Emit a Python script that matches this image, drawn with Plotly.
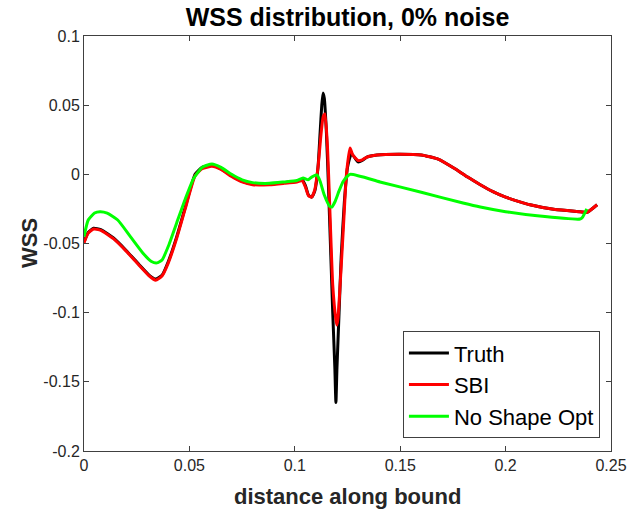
import plotly.graph_objects as go

# Truth (black)
truth_x = [0.000, 0.002, 0.0045, 0.008, 0.014, 0.020, 0.026, 0.031, 0.034, 0.037, 0.040, 0.044, 0.048,
           0.0527, 0.056, 0.0607, 0.065, 0.070, 0.075, 0.080, 0.088, 0.095, 0.101, 0.1035, 0.105, 0.1065,
           0.108, 0.1095, 0.111, 0.112, 0.1128, 0.1134, 0.1140, 0.1150, 0.1160, 0.1170, 0.1180, 0.1190,
           0.1195, 0.1200, 0.1210, 0.1220, 0.1235, 0.1250, 0.1268, 0.1280, 0.1300, 0.1320, 0.1342, 0.139,
           0.150, 0.160, 0.168, 0.176, 0.182, 0.188, 0.194, 0.200, 0.206, 0.2116, 0.2235, 0.2353, 0.2386, 0.2434]
truth_y = [-0.049, -0.042, -0.039, -0.040, -0.046, -0.055, -0.065, -0.073, -0.0757, -0.073, -0.063, -0.045, -0.024,
           0.000, 0.005, 0.0065, 0.004, -0.001, -0.005, -0.007, -0.007, -0.006, -0.005, -0.004, -0.008, -0.015,
           -0.0165, -0.012, 0.005, 0.030, 0.050, 0.0588, 0.055, 0.030, -0.010, -0.055, -0.100, -0.140,
           -0.165, -0.140, -0.100, -0.060, -0.020, 0.005, 0.015, 0.013, 0.009, 0.010, 0.0125, 0.014,
           0.0145, 0.014, 0.011, 0.004, -0.002, -0.0075, -0.0125, -0.0165, -0.0195, -0.022, -0.0255, -0.027, -0.0275, -0.022]

# SBI (red)
sbi_x = [0.000, 0.002, 0.0045, 0.008, 0.014, 0.020, 0.026, 0.031, 0.034, 0.037, 0.040, 0.044, 0.048,
         0.0527, 0.056, 0.0607, 0.065, 0.070, 0.075, 0.080, 0.088, 0.095, 0.101, 0.1035, 0.105, 0.1065,
         0.108, 0.1095, 0.111, 0.1125, 0.1135, 0.1143, 0.1155, 0.1165, 0.1180, 0.1195, 0.1200, 0.1205,
         0.1215, 0.1230, 0.1245, 0.1262, 0.1275, 0.1300, 0.1320, 0.1342, 0.139,
         0.150, 0.160, 0.168, 0.176, 0.182, 0.188, 0.194, 0.200, 0.206, 0.2116, 0.2235, 0.2353, 0.2386, 0.2434]
sbi_y = [-0.0495, -0.0425, -0.0395, -0.0405, -0.0465, -0.0555, -0.0655, -0.0735, -0.0765, -0.0735, -0.064, -0.046, -0.025,
         -0.001, 0.004, 0.0058, 0.0035, -0.0015, -0.0055, -0.0075, -0.0075, -0.0065, -0.0055, -0.0045, -0.009, -0.0155,
         -0.0165, -0.011, 0.005, 0.030, 0.042, 0.0436, 0.020, -0.020, -0.080, -0.105, -0.109, -0.104,
         -0.080, -0.040, 0.000, 0.019, 0.014, 0.010, 0.0105, 0.0125, 0.014,
         0.0145, 0.014, 0.011, 0.004, -0.002, -0.0075, -0.0125, -0.0165, -0.0195, -0.022, -0.0255, -0.027, -0.0275, -0.022]

# No Shape Opt (green)
nso_x = [0.000, 0.002, 0.005, 0.0076, 0.011, 0.016, 0.022, 0.028, 0.032, 0.0346, 0.037, 0.040, 0.044,
         0.048, 0.052, 0.056, 0.0607, 0.065, 0.070, 0.075, 0.080, 0.088, 0.095, 0.101, 0.1039, 0.1063,
         0.108, 0.1105, 0.112, 0.114, 0.1165, 0.1176, 0.119, 0.121, 0.123, 0.1262, 0.1404, 0.160,
         0.1798, 0.188, 0.200, 0.215, 0.2353, 0.2365, 0.2385]
nso_y = [-0.045, -0.033, -0.028, -0.027, -0.028, -0.033, -0.045, -0.057, -0.063, -0.064, -0.062, -0.052, -0.035,
         -0.018, -0.003, 0.005, 0.0075, 0.005, 0.000, -0.004, -0.006, -0.0065, -0.0055, -0.0045, -0.0027, -0.004,
         -0.002, -0.0005, -0.005, -0.015, -0.023, -0.0236, -0.020, -0.012, -0.005, 0.000, -0.0055, -0.013,
         -0.0207, -0.0236, -0.027, -0.030, -0.0323, -0.031, -0.025]

x_ticks = [0, 0.05, 0.1, 0.15, 0.2, 0.25]
x_tick_labels = ["0", "0.05", "0.1", "0.15", "0.2", "0.25"]
y_ticks = [-0.2, -0.15, -0.1, -0.05, 0, 0.05, 0.1]
y_tick_labels = ["-0.2", "-0.15", "-0.1", "-0.05", "0", "0.05", "0.1"]

FONT = "Liberation Sans, Arial, Helvetica, sans-serif"
AX = "#262626"
W, H = 630, 511
L, R, T, B = 84, 19, 36, 60

fig = go.Figure()
fig.add_trace(go.Scatter(x=truth_x, y=truth_y, mode="lines", name="Truth",
                         line=dict(color="black", width=3, shape="spline", smoothing=0.5)))
fig.add_trace(go.Scatter(x=sbi_x, y=sbi_y, mode="lines", name="SBI",
                         line=dict(color="#ff0000", width=3, shape="spline", smoothing=0.5)))
fig.add_trace(go.Scatter(x=nso_x, y=nso_y, mode="lines", name="No Shape Opt",
                         line=dict(color="#00ff00", width=3, shape="spline", smoothing=0.5)))

axis_common = dict(showline=True, linecolor="#404040", linewidth=1, mirror="ticks",
                   ticks="inside", ticklen=5, tickcolor="#404040", showgrid=False, zeroline=False,
                   automargin=False,
                   tickfont=dict(family=FONT, size=16, color=AX))

fig.update_layout(
    width=W, height=H,
    margin=dict(l=L, r=R, t=T, b=B, autoexpand=False),
    paper_bgcolor="white", plot_bgcolor="white",
    title=dict(text="<b>WSS distribution, 0% noise</b>", x=(L + W - R) / 2 / W, xanchor="center",
               y=1 - 17 / H, yanchor="middle", font=dict(family=FONT, size=25, color="black")),
    xaxis=dict(range=[0, 0.25], tickvals=x_ticks, ticktext=x_tick_labels, **axis_common),
    yaxis=dict(range=[-0.2, 0.1], tickvals=y_ticks, ticktext=y_tick_labels, **axis_common),
    legend=dict(x=0.979, xanchor="right", y=0.031, yanchor="bottom",
                bgcolor="white", bordercolor="#404040", borderwidth=1, itemwidth=40,
                font=dict(family=FONT, size=22, color="black"), tracegroupgap=0),
    showlegend=True,
    annotations=[
        dict(text="<b>distance along bound</b>", xref="paper", yref="paper",
             x=0.5, y=-(496 - (H - B)) / (H - T - B), xanchor="center", yanchor="middle",
             showarrow=False, font=dict(family=FONT, size=22, color=AX)),
        dict(text="<b>WSS</b>", xref="paper", yref="paper",
             x=-(L - 30) / (W - L - R), y=(H - B - 243) / (H - T - B), xanchor="center", yanchor="middle",
             textangle=-90, showarrow=False, font=dict(family=FONT, size=22, color=AX)),
    ],
)

fig.write_html("out.html")
